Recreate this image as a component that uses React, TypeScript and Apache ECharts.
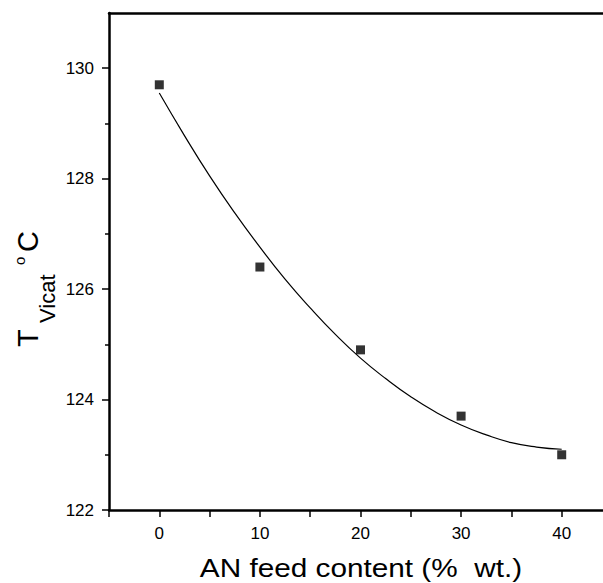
import React, { useEffect, useRef } from "react";
import * as echarts from "echarts";

// Measured data (AN feed content, % wt. vs Vicat temperature, °C)
const anContent = [0, 10, 20, 30, 40];
const vicatTemp = [129.7, 126.4, 124.9, 123.7, 123.0];

// Fitted curve
const fitX = [0, 2.5, 5, 7.5, 10, 12.5, 15, 17.5, 20, 22.5, 25, 27.5, 30, 32.5, 35, 37.5, 40];
const fitY = [129.55, 128.78, 128.05, 127.38, 126.76, 126.18, 125.66, 125.18, 124.75, 124.38, 124.05, 123.77, 123.54, 123.36, 123.22, 123.14, 123.1];

const xTicks = [-5, 0, 5, 10, 15, 20, 25, 30, 35, 40, 45];
const xLabels = [0, 10, 20, 30, 40];
const yMajor = [122, 124, 126, 128, 130];
const yMinor = [123, 125, 127, 129];

const FONT = "'Liberation Sans', Arial, Helvetica, sans-serif";

export default function App() {
  const ref = useRef<HTMLDivElement>(null);
  useEffect(() => {
    if (!ref.current) return;
    const chart = echarts.init(ref.current, null, { renderer: "svg" });
    const axisLine = { show: true, onZero: false, lineStyle: { color: "#000", width: 2.5 } };
    chart.setOption({
      animation: false,
      backgroundColor: "#fff",
      grid: { left: 109, top: 13, right: -9, bottom: 73, containLabel: false, outerBoundsMode: "none" },
      xAxis: [
        {
          type: "value",
          position: "bottom",
          min: -5,
          max: 45,
          interval: 5,
          axisLine,
          splitLine: { show: false },
          axisTick: { show: true, length: 7, customValues: xTicks, lineStyle: { color: "#000", width: 1.5 } },
          axisLabel: {
            show: true,
            margin: 15,
            fontSize: 17,
            color: "#000",
            fontFamily: FONT,
            formatter: (v: number) => (xLabels.includes(v) ? String(v) : ""),
          },
        },
        {
          type: "value",
          position: "top",
          min: -5,
          max: 45,
          axisLine,
          splitLine: { show: false },
          axisTick: { show: false },
          axisLabel: { show: false },
        },
      ],
      yAxis: [
        {
          type: "value",
          position: "left",
          min: 122,
          max: 131,
          interval: 2,
          axisLine,
          splitLine: { show: false },
          axisTick: { show: true, length: 7, customValues: yMajor, lineStyle: { color: "#000", width: 1.5 } },
          axisLabel: {
            show: true,
            margin: 15,
            fontSize: 17,
            color: "#000",
            fontFamily: FONT,
            formatter: (v: number) => (yMajor.includes(v) ? String(v) : ""),
          },
        },
        {
          type: "value",
          position: "left",
          min: 122,
          max: 131,
          interval: 1,
          axisLine: { show: false, onZero: false },
          splitLine: { show: false },
          axisTick: { show: true, length: 4, customValues: yMinor, lineStyle: { color: "#000", width: 1.5 } },
          axisLabel: { show: false },
        },
      ],
      graphic: [
        {
          type: "text",
          x: 361,
          y: 568,
          scaleX: 1.19,
          style: {
            text: "AN feed content (%  wt.)",
            fontSize: 25,
            fontFamily: FONT,
            fill: "#000",
            align: "center",
            verticalAlign: "middle",
          },
        },
        {
          type: "group",
          x: 38,
          y: 347,
          rotation: Math.PI / 2,
          children: [
            { type: "text", x: 0, y: -10, style: { text: "T", fontSize: 29, fontFamily: FONT, fill: "#000", verticalAlign: "middle" } },
            { type: "text", x: 24, y: 9.4, style: { text: "Vicat", fontSize: 22, fontFamily: FONT, fill: "#000", verticalAlign: "middle" } },
            { type: "text", x: 82, y: -18.2, style: { text: "o", fontSize: 15, fontFamily: FONT, fill: "#000", verticalAlign: "middle" } },
            { type: "text", x: 95, y: -10, style: { text: "C", fontSize: 29, fontFamily: FONT, fill: "#000", verticalAlign: "middle" } },
          ],
        },
      ],
      series: [
        {
          type: "line",
          xAxisIndex: 0,
          yAxisIndex: 0,
          data: fitX.map((x, i) => [x, fitY[i]]),
          smooth: true,
          showSymbol: false,
          symbol: "none",
          lineStyle: { color: "#000", width: 1.2 },
          z: 2,
        },
        {
          type: "scatter",
          xAxisIndex: 0,
          yAxisIndex: 0,
          data: anContent.map((x, i) => [x, vicatTemp[i]]),
          symbol: "rect",
          symbolSize: 9,
          itemStyle: { color: "#000" },
          z: 3,
        },
      ],
    });
    return () => chart.dispose();
  }, []);
  return (
    <div
      ref={ref}
      style={{ position: "absolute", left: 0, top: 0, width: 603, height: 583, background: "#fff" }}
    />
  );
}
